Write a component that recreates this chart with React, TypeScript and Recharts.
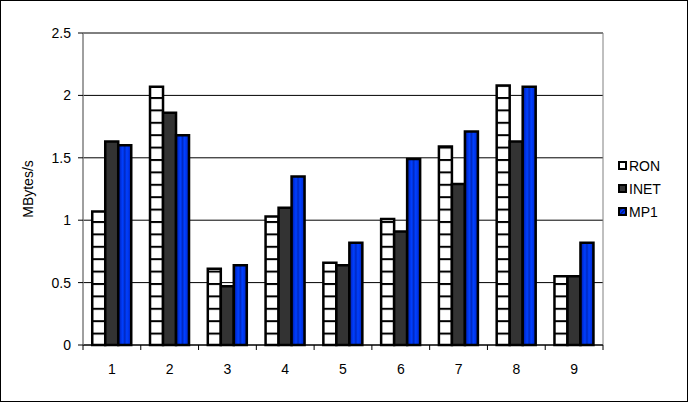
import React from "react"
import { BarChart, Bar, XAxis, YAxis, CartesianGrid, ReferenceArea } from "recharts"

const categories = ["1", "2", "3", "4", "5", "6", "7", "8", "9"]
const ron = [1.07, 2.07, 0.61, 1.03, 0.66, 1.01, 1.59, 2.08, 0.55]
const inet = [1.63, 1.86, 0.47, 1.1, 0.64, 0.91, 1.29, 1.63, 0.55]
const mp1 = [1.6, 1.68, 0.64, 1.35, 0.82, 1.49, 1.71, 2.07, 0.82]
const yTicks = [0, 0.5, 1, 1.5, 2, 2.5]

const data = categories.map((c, i) => ({ name: c, RON: ron[i], INET: inet[i], MP1: mp1[i] }))

const W = 688
const H = 402
const YAXIS_W = 83
const RIGHT = 85
const TOP = 33
const XAXIS_H = 57
const PLOT_BOTTOM = H - XAXIS_H
const BAND = (W - YAXIS_W - RIGHT) / categories.length
const FONT = "'Liberation Sans', Arial, sans-serif"

// category labels centred, tick marks between categories (Excel style)
const XTick = (props: any) => {
  const { x, payload, index } = props
  return (
    <g>
      {index === 0 && <line x1={x - BAND / 2} x2={x - BAND / 2} y1={PLOT_BOTTOM} y2={PLOT_BOTTOM + 5} stroke="#000" />}
      <line x1={x + BAND / 2} x2={x + BAND / 2} y1={PLOT_BOTTOM} y2={PLOT_BOTTOM + 5} stroke="#000" />
      <text x={x} y={PLOT_BOTTOM + 29} textAnchor="middle" fontSize={14} fontFamily={FONT} fill="#000">
        {payload.value}
      </text>
    </g>
  )
}

const legendItems = [
  { label: "RON", fill: "#fff" },
  { label: "INET", fill: "#333333" },
  { label: "MP1", fill: "url(#mp1Legend)" },
]

const LegendBox = () => (
  <svg width={60} height={70} style={{ position: "absolute", left: 617, top: 158 }}>
    <defs>
      <pattern id="mp1Legend" patternUnits="userSpaceOnUse" width={3} height={3} patternTransform="rotate(45)">
        <rect width={3} height={3} fill="#0033ff" />
        <rect width={1.2} height={3} fill="#001a66" />
      </pattern>
    </defs>
    {legendItems.map((it, i) => (
      <g key={it.label} transform={`translate(0, ${i * 23})`}>
        <rect x={2} y={4} width={7} height={7} fill={it.fill} stroke="#000" strokeWidth={2} />
        <text x={12} y={13} fontSize={14} fontFamily={FONT} fill="#000">
          {it.label}
        </text>
      </g>
    ))}
  </svg>
)

export default function App() {
  return (
    <div style={{ position: "absolute", left: 0, top: 0, width: W, height: H, background: "#fff" }}>
      <BarChart
        width={W}
        height={H}
        data={data}
        margin={{ top: TOP, right: RIGHT, left: 0, bottom: 0 }}
        barCategoryGap="16%"
        barGap={0}
      >
        <defs>
          <pattern id="ronPattern" patternUnits="userSpaceOnUse" width={20} height={12.4} y={345}>
            <rect width={20} height={12.4} fill="#fff" />
            <rect y={0} width={20} height={2} fill="#000" />
          </pattern>
          <linearGradient id="mp1Grad" x1="0" y1="0" x2="1" y2="0">
            <stop offset="0%" stopColor="#001a8c" />
            <stop offset="20%" stopColor="#0030e0" />
            <stop offset="35%" stopColor="#0040ff" />
            <stop offset="50%" stopColor="#0028c0" />
            <stop offset="65%" stopColor="#0040ff" />
            <stop offset="85%" stopColor="#0030e0" />
            <stop offset="100%" stopColor="#001a8c" />
          </linearGradient>
        </defs>
        <CartesianGrid vertical={false} stroke="#000" strokeOpacity={1} />
        <ReferenceArea y1={0} y2={2.5} fill="none" stroke="#808080" strokeWidth={1} />
        <XAxis
          dataKey="name"
          height={XAXIS_H}
          tick={<XTick />}
          tickLine={false}
          axisLine={{ stroke: "#000" }}
          interval={0}
        />
        <YAxis
          width={YAXIS_W}
          domain={[0, 2.5]}
          ticks={yTicks}
          tickSize={5}
          tickLine={{ stroke: "#000" }}
          axisLine={{ stroke: "#808080" }}
          tick={{ fontSize: 14, fontFamily: FONT, fill: "#000" }}
          tickMargin={7}
          label={{
            content: () => (
              <text transform={`translate(33, ${(TOP + PLOT_BOTTOM) / 2}) rotate(-90)`} textAnchor="middle" fontSize={14} fontFamily={FONT} fill="#000">
                MBytes/s
              </text>
            ),
          }}
        />
        <Bar dataKey="RON" fill="url(#ronPattern)" stroke="#000" strokeWidth={2.5} isAnimationActive={false} />
        <Bar dataKey="INET" fill="#333333" stroke="#000" strokeWidth={2.5} isAnimationActive={false} />
        <Bar dataKey="MP1" fill="url(#mp1Grad)" stroke="#000" strokeWidth={2.5} isAnimationActive={false} />
      </BarChart>
      <LegendBox />
      <div style={{ position: "absolute", left: 0, top: 0, width: W, height: H, border: "1px solid #000", boxSizing: "border-box", pointerEvents: "none" }} />
    </div>
  )
}
